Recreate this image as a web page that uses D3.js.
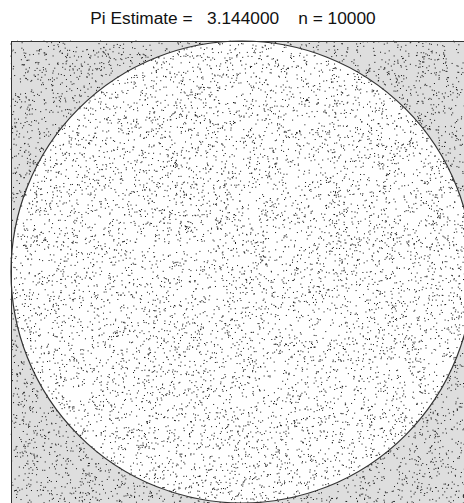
<!DOCTYPE html>
<html>
<head>
<meta charset="utf-8">
<script src="https://cdn.jsdelivr.net/npm/d3@7"></script>
<style>
  body { margin: 0; background: white; }
  svg { display: block; }
</style>
</head>
<body>
<div id="container"></div>
<script>
let w = 464;
let h = 503;

// DATA
let nPoints = 10000;
let piEstimate = 3.144;
let titleLabels = ["Pi Estimate =", piEstimate.toFixed(6), "n = " + nPoints];
let domainX = [-1, 1];
let domainY = [-1, 1];

// simulated draws (the chart is a Monte Carlo sample; seeded so it is repeatable)
let nInside = Math.round(piEstimate / 4 * nPoints);
let rng = d3.randomLcg(0.4721);
let points = [];
let inside = 0, outside = 0;
while (points.length < nPoints) {
  let px = rng() * 2 - 1;
  let py = rng() * 2 - 1;
  let isIn = px * px + py * py <= 1;
  if (isIn && inside < nInside) { points.push([px, py]); inside++; }
  else if (!isIn && outside < nPoints - nInside) { points.push([px, py]); outside++; }
}

// SVG
let viz = d3.select("#container").append("svg")
    .attr("width", w)
    .attr("height", h)
    .style("background-color", "white")
;

// SCALES
let plotLeft = 11, plotTop = 41, side = 462;
let xScale = d3.scaleLinear().domain(domainX).range([plotLeft, plotLeft + side]);
let yScale = d3.scaleLinear().domain(domainY).range([plotTop + side, plotTop]);

// square (grey) and circle (white)
viz.append("rect")
    .attr("x", xScale(-1))
    .attr("y", yScale(1))
    .attr("width", xScale(1) - xScale(-1))
    .attr("height", yScale(-1) - yScale(1))
    .attr("fill", "#dedede")
;
viz.append("circle")
    .attr("cx", xScale(0))
    .attr("cy", yScale(0))
    .attr("r", xScale(1) - xScale(0))
    .attr("fill", "white")
;

// points
viz.append("g").selectAll("rect").data(points).enter()
  .append("rect")
    .attr("x", d => xScale(d[0]) - 0.5)
    .attr("y", d => yScale(d[1]) - 0.5)
    .attr("width", 1)
    .attr("height", 1)
    .attr("fill", "#111")
;

// outlines
viz.append("circle")
    .attr("cx", xScale(0))
    .attr("cy", yScale(0))
    .attr("r", xScale(1) - xScale(0))
    .attr("fill", "none")
    .attr("stroke", "#333")
    .attr("stroke-width", 1.2)
;
viz.append("rect")
    .attr("x", xScale(-1) + 0.5)
    .attr("y", yScale(1) + 0.5)
    .attr("width", xScale(1) - xScale(-1))
    .attr("height", yScale(-1) - yScale(1))
    .attr("fill", "none")
    .attr("stroke", "#333")
    .attr("stroke-width", 1)
;

// TITLE
viz.append("text")
    .attr("x", 233)
    .attr("y", 24)
    .attr("text-anchor", "middle")
    .style("font-family", "'Liberation Sans', Arial, sans-serif")
    .style("font-size", "17.3px")
    .style("white-space", "pre")
    .attr("fill", "#111")
    .text(titleLabels[0] + "   " + titleLabels[1] + "    " + titleLabels[2])
;
</script>
</body>
</html>
